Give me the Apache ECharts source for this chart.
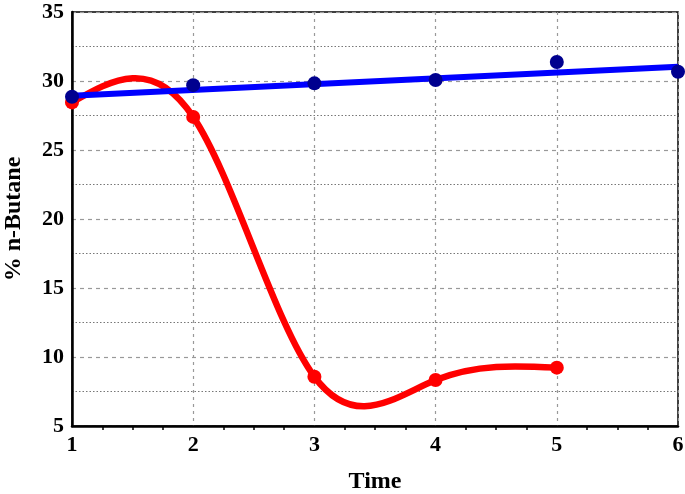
<!DOCTYPE html>
<html>
<head>
<meta charset="utf-8">
<script src="https://cdn.jsdelivr.net/npm/echarts@6/dist/echarts.min.js"></script>
<style>
  html, body { margin: 0; padding: 0; background: #fff; }
  #main { width: 685px; height: 494px; }
</style>
</head>
<body>
<div id="main"></div>
<script>
// 数据
var times = [1, 2, 3, 4, 5, 6]
var redValues = [28.45, 27.4, 8.57, 8.33, 9.23]
var blueValues = [28.86, 29.7, 29.83, 30.07, 31.38, 30.67]
var blueFit = [[1, 28.93], [6, 31.04]] // 拟合直线两端

var font = 'Liberation Serif'
var redPoints = redValues.map(function (v, i) { return [times[i], v] })
var bluePoints = blueValues.map(function (v, i) { return [times[i], v] })

// 自然三次样条的二阶导数 (只用于画曲线形状)
function splineMoments(pts) {
  var n = pts.length
  var M = new Array(n).fill(0)
  if (n < 3) return M
  var a = [], b = [], c = [], d = []
  for (var i = 1; i < n - 1; i++) {
    var h0 = pts[i][0] - pts[i - 1][0]
    var h1 = pts[i + 1][0] - pts[i][0]
    a.push(h0)
    b.push(2 * (h0 + h1))
    c.push(h1)
    d.push(6 * ((pts[i + 1][1] - pts[i][1]) / h1 - (pts[i][1] - pts[i - 1][1]) / h0))
  }
  var m = b.length
  for (var k = 1; k < m; k++) {
    var w = a[k] / b[k - 1]
    b[k] -= w * c[k - 1]
    d[k] -= w * d[k - 1]
  }
  var sol = new Array(m)
  sol[m - 1] = d[m - 1] / b[m - 1]
  for (var k = m - 2; k >= 0; k--) sol[k] = (d[k] - c[k] * sol[k + 1]) / b[k]
  for (var k = 0; k < m; k++) M[k + 1] = sol[k]
  return M
}
var redM = splineMoments(redPoints)

function renderSpline(params, api) {
  var i = params.dataIndex
  if (i >= redPoints.length - 1) return null
  var p0 = redPoints[i], p1 = redPoints[i + 1]
  var h = p1[0] - p0[0]
  var sl = (p1[1] - p0[1]) / h
  var d0 = sl - h * (2 * redM[i] + redM[i + 1]) / 6
  var d1 = sl + h * (redM[i] + 2 * redM[i + 1]) / 6
  var a = api.coord(p0)
  var c1 = api.coord([p0[0] + h / 3, p0[1] + d0 * h / 3])
  var c2 = api.coord([p1[0] - h / 3, p1[1] - d1 * h / 3])
  var b = api.coord(p1)
  return {
    type: 'path',
    shape: {
      pathData: 'M' + a[0] + ' ' + a[1] + ' C' + c1[0] + ' ' + c1[1] + ' ' + c2[0] + ' ' + c2[1] + ' ' + b[0] + ' ' + b[1]
    },
    style: { fill: null, stroke: '#ff0000', lineWidth: 6.5, lineCap: 'round' }
  }
}

var myChart = echarts.init(document.getElementById('main'))

var option = {
  animation: false,
  backgroundColor: '#fff',
  grid: {
    left: 72,
    right: 7,
    top: 12,
    bottom: 68,
    outerBoundsMode: 'none',
    containLabel: false,
    show: true,
    borderColor: '#000',
    borderWidth: 1.5
  },
  xAxis: {
    type: 'value',
    min: 1,
    max: 6,
    interval: 1,
    name: 'Time',
    nameLocation: 'middle',
    nameGap: 44,
    nameTextStyle: { fontFamily: font, fontWeight: 'bold', fontSize: 24, color: '#000' },
    axisLine: { lineStyle: { color: '#000', width: 2.5 } },
    axisTick: { show: false },
    minorTick: { show: true, splitNumber: 4, length: 4, lineStyle: { color: '#000', width: 1.5 } },
    axisLabel: { fontFamily: font, fontWeight: 'bold', fontSize: 22, color: '#000', margin: 8 },
    splitLine: { show: true, lineStyle: { color: '#999', type: [3, 4], width: 1.2 } }
  },
  yAxis: {
    type: 'value',
    min: 5,
    max: 35,
    interval: 5,
    name: '% n-Butane',
    nameLocation: 'middle',
    nameGap: 46,
    nameTextStyle: { fontFamily: font, fontWeight: 'bold', fontSize: 24, color: '#000' },
    axisLine: { show: true, lineStyle: { color: '#000', width: 2.5 } },
    axisTick: { show: false },
    minorTick: { show: false, splitNumber: 2 },
    minorSplitLine: { show: true, lineStyle: { color: '#777', type: [1.5, 2], width: 1 } },
    axisLabel: { fontFamily: font, fontWeight: 'bold', fontSize: 22, color: '#000', margin: 8 },
    splitLine: { show: true, lineStyle: { color: '#999', type: [4, 4], width: 1.2 } }
  },
  series: [
    {
      name: 'redCurve',
      type: 'custom',
      renderItem: renderSpline,
      data: redPoints,
      clip: true,
      z: 3
    },
    {
      name: 'red',
      type: 'scatter',
      data: redPoints,
      symbol: 'circle',
      symbolSize: 14,
      itemStyle: { color: '#ff0000', opacity: 1 },
      z: 4
    },
    {
      name: 'blueFit',
      type: 'line',
      data: blueFit,
      symbol: 'none',
      lineStyle: { color: '#0000ff', width: 6 },
      z: 5
    },
    {
      name: 'blue',
      type: 'scatter',
      data: bluePoints,
      symbol: 'circle',
      symbolSize: 14,
      itemStyle: { color: '#00008f', opacity: 1 },
      z: 6
    }
  ]
}
myChart.setOption(option)
</script>
</body>
</html>
